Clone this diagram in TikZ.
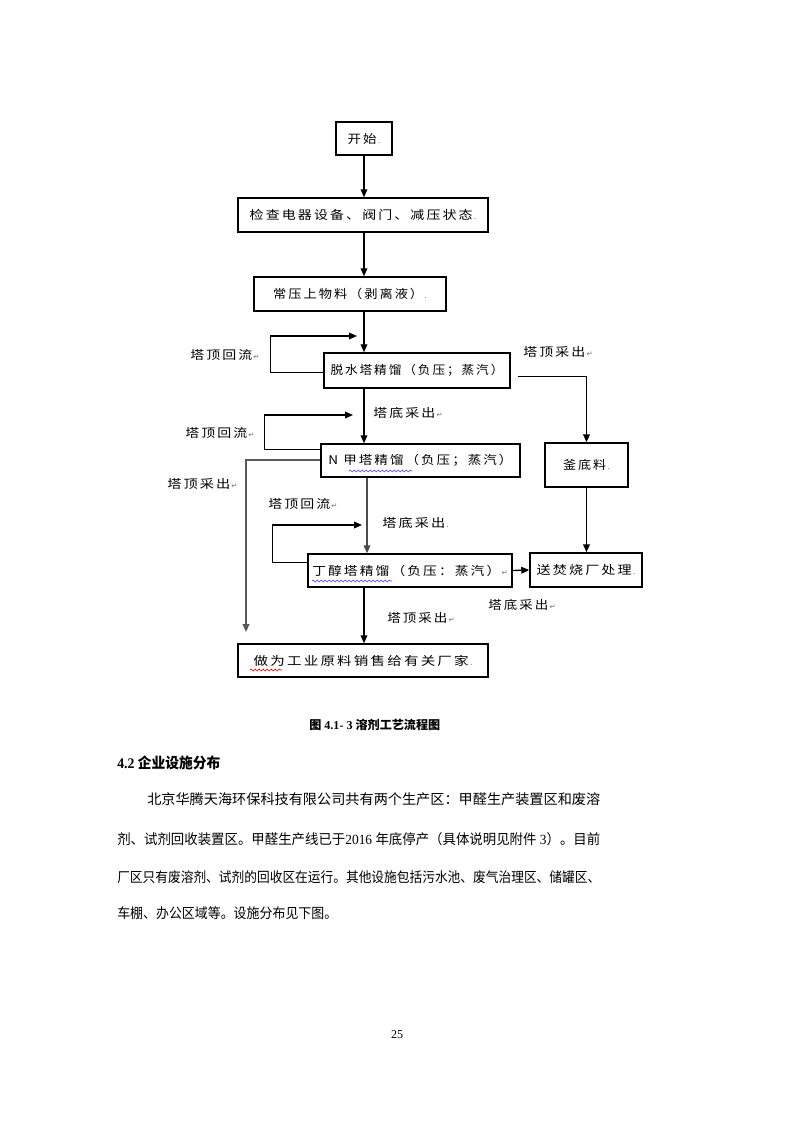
\documentclass[tikz,border=0pt]{standalone}
\usepackage{graphicx}
\usepackage{fontspec}
\setmainfont{Liberation Serif}
\newfontfamily\cjk{Noto Sans CJK SC}
\newfontfamily\cjkls[LetterSpace=15]{Noto Sans CJK SC}
\newfontfamily\symf{DejaVu Sans}
\usetikzlibrary{arrows.meta,calc,decorations.pathmorphing}
\newdimen\pxu \pxu=0.75pt
\newcommand\fitw[2]{\resizebox{#1\pxu}{\height}{#2}}
\newcommand\parmark{{\symf\fontsize{5.5pt}{5.5pt}\selectfont\color{black!55}\,↵}}
\newcommand\dotmark{{\fontsize{6pt}{6pt}\selectfont\color{black!55}\,.}}
\newcommand\bx[6]{\node[boxs, minimum width={(#4-#2)*0.75pt}, minimum height={(#5-#3)*0.75pt}] (#1) at ({(#2+#4)/2},{(#3+#5)/2}) {#6};}
\begin{document}
\begin{tikzpicture}[x=0.75pt, y=-0.75pt,
  boxs/.style={draw, line width=1.1pt, inner sep=0pt, font=\cjkls\fontsize{9pt}{11pt}\selectfont},
  lab/.style={inner sep=0pt, anchor=west, font=\cjkls\fontsize{9pt}{11pt}\selectfont},
  para/.style={inner sep=0pt, anchor=west, font=\fontsize{10.5pt}{12pt}\selectfont},
  arr/.style={-{Triangle[length=6pt,width=5pt]}, line width=1pt},
  wavy/.style={decorate, decoration={snake, amplitude=0.7pt, segment length=3pt}, line width=0.5pt}]
\useasboundingbox (0,0) rectangle (794,1123);
\fill[white] (0,0) rectangle (794,1123);

% boxes
\bx{start}{336}{122}{392}{155}{\fitw{29}{开始}\dotmark}
\bx{check}{238}{198}{488}{232}{\fitw{223}{检查电器设备、阀门、减压状态}\dotmark}
\bx{feed}{254}{277}{446}{311}{\fitw{150}{常压上物料（剥离液）}\dotmark}
\bx{dehyd}{324}{353}{510}{388}{\fitw{173}{脱水塔精馏（负压；蒸汽）}}
\bx{nmeth}{321}{444}{520}{477}{\fitw{184}{N 甲塔精馏（负压；蒸汽）}}
\bx{kettle}{545}{443}{628}{487}{\fitw{43}{釜底料}\dotmark}
\bx{buta}{308}{554}{512}{587}{\fitw{188}{丁醇塔精馏（负压：蒸汽）}\parmark}
\bx{incin}{530}{553}{642}{587}{\fitw{95}{送焚烧厂处理}\dotmark}
\bx{final}{238}{644}{488}{677}{\fitw{215}{做为工业原料销售给有关厂家}\dotmark}

% labels
\node[lab] (l1) at (190,355) {\fitw{62}{塔顶回流}\parmark};
\node[lab] (r1l) at (523,352) {\fitw{62}{塔顶采出}\parmark};
\node[lab] (b1) at (373,413) {\fitw{62}{塔底采出}\parmark};
\node[lab] (l2) at (185,433) {\fitw{62}{塔顶回流}\parmark};
\node[lab] (l3) at (167,484) {\fitw{63}{塔顶采出}\parmark};
\node[lab] (l4) at (268,504) {\fitw{62}{塔顶回流}\parmark};
\node[lab] (b2) at (382,523) {\fitw{63}{塔底采出}\dotmark};
\node[lab] (b3) at (488,605) {\fitw{60}{塔底采出}\parmark};
\node[lab] (b4) at (387,618) {\fitw{60}{塔顶采出}\parmark};

% connectors
\coordinate (col) at (364,0);
\coordinate (col2) at (367,0);
\coordinate (r1) at (357,336);
\coordinate (r2) at (353,415);
\coordinate (r3) at (362,525);
\coordinate (e3) at (246,632);
\draw[arr] (start.south) -- (start.south |- check.north);
\draw[arr] (check.south -| col) -- (feed.north -| col);
\draw[arr] (feed.south -| col) -- (dehyd.north -| col);
\draw[arr] ($(dehyd.north west)+(0,20)$) -- ++(-53,0) |- (r1);
\draw[arr, line width=1.4pt] ($(dehyd.east)+(7,6)$) -| (kettle.north);
\draw[arr] (dehyd.south -| col) -- (nmeth.north -| col);
\draw[arr] ($(nmeth.north west)+(0,6)$) -- ++(-56,0) |- (r2);
\draw[arr, black!65, line width=1.3pt] ($(nmeth.north west)+(0,17)$) -| (e3);
\draw[arr, black!70] (nmeth.south -| col2) -- (buta.north -| col2);
\draw[arr, line width=1.3pt] (kettle.south) -- (kettle.south |- incin.north);
\draw[arr] ($(buta.north west)+(0,9)$) -- ++(-35,0) |- (r3);
\draw[arr] (buta.east) -- (incin.west);
\draw[arr] (buta.south -| col) -- (final.north -| col);

% spell-check underlines
\draw[wavy, blue!70] (349,471) -- (412,471);
\draw[wavy, blue!70] (312,581) -- (392,581);
\draw[wavy, red] (250,670) -- (282,670);

% caption and text
\node[para, font=\fontsize{9pt}{11pt}\selectfont] (cap) at (309,725) {\fitw{131}{{\cjk\bfseries 图} \textbf{4.1- 3} {\cjk\bfseries 溶剂工艺流程图}}};
\node[para, font=\fontsize{11pt}{13pt}\selectfont] (head) at (117,763) {\fitw{103}{\textbf{4.2} {\cjk\bfseries 企业设施分布}}};
\node[para] (p1) at (147,799) {\fitw{453}{\cjk 北京华腾天海环保科技有限公司共有两个生产区：甲醛生产装置区和废溶}};
\node[para] (p2) at (117,839) {\fitw{483}{{\cjk 剂、试剂回收装置区。甲醛生产线已于}2016 {\cjk 年底停产（具体说明见附件} 3{\cjk ）。目前}}};
\node[para] (p3) at (117,877) {\fitw{483}{\cjk 厂区只有废溶剂、试剂的回收区在运行。其他设施包括污水池、废气治理区、储罐区、}};
\node[para] (p4) at (117,913) {\fitw{220}{\cjk 车棚、办公区域等。设施分布见下图。}};
\node[font=\fontsize{9pt}{11pt}\selectfont, inner sep=0pt] (pg) at (397,1035) {25};
\end{tikzpicture}
\end{document}
